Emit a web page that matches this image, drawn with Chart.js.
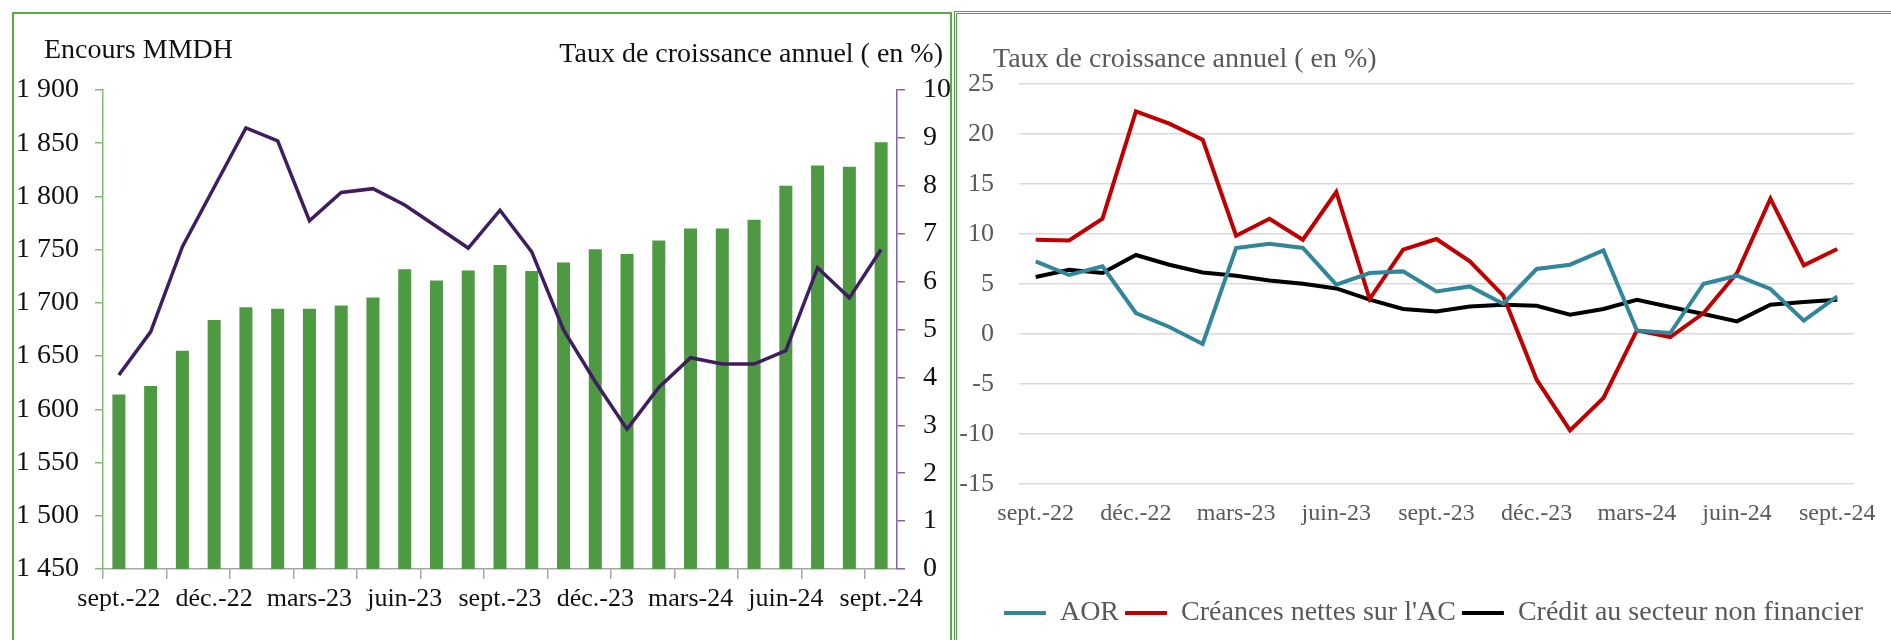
<!DOCTYPE html>
<html><head><meta charset="utf-8">
<script src="https://cdn.jsdelivr.net/npm/chart.js@4.4.1/dist/chart.umd.min.js"></script>
<style>
html,body{margin:0;padding:0;background:#fff;}
body{position:relative;width:1891px;height:640px;overflow:hidden;font-family:"Liberation Serif",serif;}
#p1{position:absolute;left:12px;top:12px;width:940px;height:700px;border:2px solid #5aa84a;box-sizing:border-box;}
#p2{position:absolute;left:954px;top:11px;width:960px;height:700px;border:3px double #4f9e40;box-sizing:border-box;}
#c1{position:absolute;left:0;top:0;}
#c2{position:absolute;left:955px;top:0;}
.t{position:absolute;font-size:28px;line-height:28px;white-space:nowrap;}
</style></head>
<body>
<div id="p1"></div>
<div id="p2"></div>
<canvas id="c1" width="950" height="640"></canvas>
<canvas id="c2" width="936" height="640"></canvas>
<div class="t" style="left:44px;top:35px;color:#111;">Encours MMDH</div>
<div class="t" style="right:948px;top:39px;color:#111;">Taux de croissance annuel ( en %)</div>
<div class="t" style="left:993px;top:44px;color:#595959;">Taux de croissance annuel ( en %)</div>
<script>
const months = ['sept.-22','oct.-22','nov.-22','déc.-22','janv.-23','févr.-23','mars-23','avr.-23','mai-23','juin-23','juil.-23','août-23','sept.-23','oct.-23','nov.-23','déc.-23','janv.-24','févr.-24','mars-24','avr.-24','mai-24','juin-24','juil.-24','août-24','sept.-24'];

// Left panel
const encours = [1614, 1622, 1655, 1684, 1696, 1694.5, 1694.5, 1697.5, 1705, 1731.5, 1721, 1730.5, 1735.5, 1730, 1738, 1750.5, 1746, 1758.5, 1770, 1770, 1778, 1810, 1829, 1828, 1851];
const tauxEncours = [4.05, 4.95, 6.73, 7.97, 9.21, 8.94, 7.27, 7.86, 7.94, 7.6, 7.15, 6.7, 7.49, 6.62, 4.99, 3.91, 2.92, 3.79, 4.41, 4.28, 4.28, 4.56, 6.29, 5.66, 6.67];

// Right panel
const aor = [7.26, 5.9, 6.76, 2.1, 0.7, -1.0, 8.6, 9.03, 8.6, 4.93, 6.1, 6.26, 4.26, 4.76, 3.03, 6.5, 6.93, 8.36, 0.36, 0.1, 5.03, 5.83, 4.5, 1.33, 3.76];
const creances = [9.43, 9.36, 11.53, 22.26, 21.03, 19.43, 9.83, 11.53, 9.43, 14.2, 3.5, 8.43, 9.5, 7.26, 3.83, -4.57, -9.64, -6.4, 0.36, -0.3, 2.1, 6.1, 13.53, 6.86, 8.5];
const credit = [5.7, 6.43, 6.1, 7.9, 6.93, 6.16, 5.83, 5.36, 5.03, 4.56, 3.43, 2.5, 2.26, 2.76, 2.93, 2.83, 1.93, 2.5, 3.43, 2.7, 2.0, 1.26, 2.93, 3.2, 3.43];

const FONT = 'Liberation Serif';
const fmtThousands = v => Math.floor(v/1000) + ' ' + String(v % 1000).padStart(3,'0');
const everyThird = (v, i) => (i % 3 === 0 ? months[i] : '');

new Chart(document.getElementById('c1'), {
  data: {
    labels: months,
    datasets: [
      {type:'line', label:'Taux de croissance annuel ( en %)', data: tauxEncours, yAxisID:'y1',
       borderColor:'#3f1d60', borderWidth:3.5, pointRadius:0, tension:0, order:0},
      {type:'bar', label:'Encours MMDH', data: encours, yAxisID:'y',
       backgroundColor:'#4e9a43', barPercentage:0.41, categoryPercentage:1, order:1}
    ]
  },
  options: {
    responsive:false, animation:false,
    layout:{padding:{top:90,left:0,right:0,bottom:0}},
    plugins:{legend:{display:false}, tooltip:{enabled:false}},
    scales:{
      x:{
        offset:true,
        grid:{offset:true, drawOnChartArea:false, drawTicks:true, tickLength:10, lineWidth:1.5,
              color: c => (c.index % 2 === 0 ? '#a6a6a6' : 'rgba(0,0,0,0)')},
        border:{display:true, color:'#a6a6a6', width:1.5},
        ticks:{autoSkip:false, maxRotation:0, minRotation:0, padding:5, color:'#111',
               font:{family:FONT, size:26}, callback: everyThird},
        afterFit: s => { s.height = 71; }
      },
      y:{
        position:'left', min:1450, max:1900,
        ticks:{stepSize:50, padding:16, color:'#111', font:{family:FONT, size:28}, callback: v => fmtThousands(v)},
        grid:{drawOnChartArea:false, tickLength:8, color:'#7dbf6b', lineWidth:1.5},
        border:{color:'#7dbf6b', width:1.5},
        afterFit: s => { s.width = 103; }
      },
      y1:{
        position:'right', min:0, max:10,
        ticks:{stepSize:1, padding:18, color:'#111', font:{family:FONT, size:28}},
        grid:{drawOnChartArea:false, tickLength:8, color:'#8064a2', lineWidth:1.5},
        border:{color:'#8064a2', width:1.5},
        afterFit: s => { s.width = 53; }
      }
    }
  }
});

const shiftLegend = {
  id:'shiftLegend',
  afterLayout(chart){ if (chart.legend) { chart.legend.left += 22; chart.legend.right += 22; } }
};

new Chart(document.getElementById('c2'), {
  type:'line',
  plugins:[shiftLegend],
  data:{
    labels: months,
    datasets:[
      {label:'AOR', data: aor, borderColor:'#31869b', backgroundColor:'#31869b', borderWidth:4, pointRadius:0, tension:0},
      {label:"Créances nettes sur l'AC", data: creances, borderColor:'#c00000', backgroundColor:'#c00000', borderWidth:4, pointRadius:0, tension:0},
      {label:'Crédit au secteur non financier', data: credit, borderColor:'#000000', backgroundColor:'#000000', borderWidth:4, pointRadius:0, tension:0}
    ]
  },
  options:{
    responsive:false, animation:false,
    layout:{padding:{top:84, left:0, right:23, bottom:3}},
    plugins:{
      tooltip:{enabled:false},
      legend:{position:'bottom', labels:{usePointStyle:true, pointStyle:'line', pointStyleWidth:42, padding:6,
              color:'#595959', font:{family:FONT, size:28}}}
    },
    scales:{
      x:{
        offset:true,
        grid:{display:false, drawTicks:false}, border:{display:false},
        ticks:{autoSkip:false, maxRotation:0, minRotation:0, padding:15, color:'#595959',
               font:{family:FONT, size:24}, callback: everyThird},
        afterFit: s => { s.height = 109; }
      },
      y:{
        min:-15, max:25,
        ticks:{stepSize:5, padding:25, color:'#595959', font:{family:FONT, size:26}},
        grid:{color:'#d9d9d9', lineWidth:1.5, drawTicks:false},
        border:{display:false},
        afterFit: s => { s.width = 64; }
      }
    }
  }
});
</script>
</body></html>
